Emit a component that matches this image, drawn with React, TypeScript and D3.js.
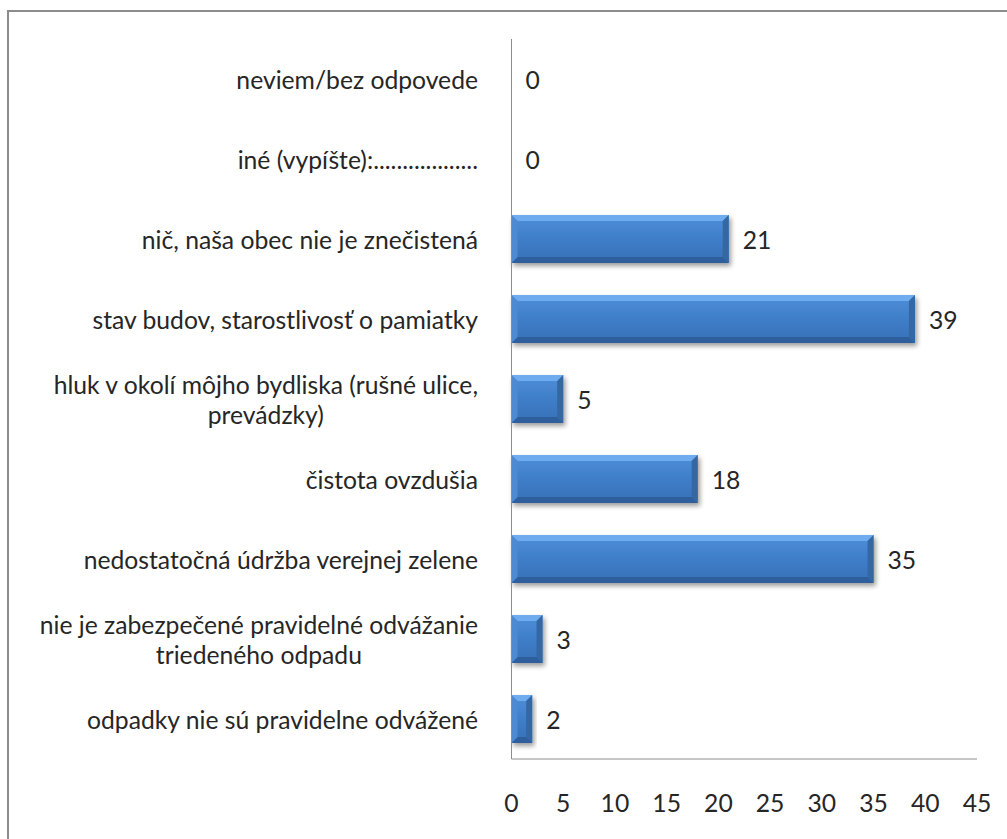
import React, { useEffect, useRef } from "react";
import * as d3 from "d3";

const categories: string[][] = [
  ["neviem/bez odpovede"],
  ["iné (vypíšte):.................."],
  ["nič, naša obec nie je znečistená"],
  ["stav budov, starostlivosť o pamiatky"],
  ["hluk v okolí môjho bydliska (rušné ulice,", "prevádzky)"],
  ["čistota ovzdušia"],
  ["nedostatočná údržba verejnej zelene"],
  ["nie je zabezpečené pravidelné odvážanie", "triedeného odpadu"],
  ["odpadky nie sú pravidelne odvážené"],
];
const values: number[] = [0, 0, 21, 39, 5, 18, 35, 3, 2];
const xTicks: number[] = [0, 5, 10, 15, 20, 25, 30, 35, 40, 45];

const W = 1007;
const H = 839;
const FONT = "Lato, 'Open Sans', sans-serif";
const FS = 24.7;

export default function App() {
  const ref = useRef<SVGSVGElement>(null);
  useEffect(() => {
    const svg = d3.select(ref.current);
    svg.selectAll("*").remove();
    const left = 511.5, right = 977, top = 39, bottom = 759;
    const x = d3.scaleLinear().domain([0, 45]).range([left, right]);
    const y = d3.scaleBand<number>().domain(d3.range(categories.length)).range([top, bottom]).paddingInner(0.4).paddingOuter(0.2);

    const defs = svg.append("defs");
    const g = defs.append("linearGradient").attr("id", "barg").attr("x1", 0).attr("y1", 0).attr("x2", 0).attr("y2", 1);
    g.append("stop").attr("offset", "0%").attr("stop-color", "#4f8fda");
    g.append("stop").attr("offset", "50%").attr("stop-color", "#3f7ec9");
    g.append("stop").attr("offset", "100%").attr("stop-color", "#3670b6");
    const f = defs.append("filter").attr("id", "shadow").attr("x", "-10%").attr("y", "-20%").attr("width", "130%").attr("height", "160%");
    f.append("feGaussianBlur").attr("in", "SourceAlpha").attr("stdDeviation", 2.5).attr("result", "b");
    f.append("feOffset").attr("in", "b").attr("dx", 2).attr("dy", 3).attr("result", "o");
    f.append("feComponentTransfer").attr("in", "o").attr("result", "o2").append("feFuncA").attr("type", "linear").attr("slope", 0.4);
    const m = f.append("feMerge");
    m.append("feMergeNode").attr("in", "o2");
    m.append("feMergeNode").attr("in", "SourceGraphic");

    // border
    svg.append("rect").attr("x", 8).attr("y", 11).attr("width", W + 20).attr("height", H + 20)
      .attr("fill", "white").attr("stroke", "#8c8c8c").attr("stroke-width", 2);

    // bars
    const bars = svg.append("g");
    values.forEach((v, i) => {
      if (v <= 0) return;
      const x0 = x(0), x1 = x(v), y0 = y(i)!, bh = y.bandwidth();
      const w = x1 - x0;
      const b = Math.min(6, w / 2);
      const grp = bars.append("g").attr("filter", "url(#shadow)");
      grp.append("rect").attr("x", x0).attr("y", y0).attr("width", w).attr("height", bh).attr("fill", "url(#barg)");
      grp.append("path").attr("d", `M${x0},${y0}L${x1},${y0}L${x1 - b},${y0 + b}L${x0 + b},${y0 + b}Z`).attr("fill", "#6eabef");
      grp.append("path").attr("d", `M${x0},${y0 + bh}L${x1},${y0 + bh}L${x1 - b},${y0 + bh - b}L${x0 + b},${y0 + bh - b}Z`).attr("fill", "#2f5f9c");
      grp.append("path").attr("d", `M${x0},${y0}L${x0 + b},${y0 + b}L${x0 + b},${y0 + bh - b}L${x0},${y0 + bh}Z`).attr("fill", "#4d8ad2");
      grp.append("path").attr("d", `M${x1},${y0}L${x1 - b},${y0 + b}L${x1 - b},${y0 + bh - b}L${x1},${y0 + bh}Z`).attr("fill", "#3467a3");
    });

    // axes lines
    svg.append("line").attr("x1", x(0)).attr("x2", x(0)).attr("y1", top).attr("y2", bottom).attr("stroke", "#8c8c8c").attr("stroke-width", 1);
    svg.append("line").attr("x1", x(0)).attr("x2", right).attr("y1", bottom).attr("y2", bottom).attr("stroke", "#8c8c8c").attr("stroke-width", 1);

    // tick labels
    svg.append("g").selectAll("text").data(xTicks).join("text")
      .attr("x", d => x(d)).attr("y", 802).attr("text-anchor", "middle").attr("dominant-baseline", "central")
      .attr("font-family", FONT).attr("font-size", FS).attr("fill", "#262626").text(d => String(d));

    // value labels
    svg.append("g").selectAll("text").data(values).join("text")
      .attr("x", d => x(d) + 14).attr("y", (d, i) => y(i)! + y.bandwidth() / 2)
      .attr("dominant-baseline", "central").attr("font-family", FONT).attr("font-size", FS).attr("fill", "#262626")
      .text(d => String(d));

    // category labels
    const labelRight = 478;
    const lh = 30;
    categories.forEach((lines, i) => {
      const cy = y(i)! + y.bandwidth() / 2;
      const t = svg.append("text").attr("font-family", FONT).attr("font-size", FS).attr("fill", "#262626").attr("text-anchor", "middle");
      const spans = lines.map((ln, k) =>
        t.append("tspan").attr("y", cy + (k - (lines.length - 1) / 2) * lh).attr("dominant-baseline", "central").text(ln)
      );
      const maxW = d3.max(spans, s => (s.node() as SVGTSpanElement).getComputedTextLength()) || 0;
      spans.forEach(s => s.attr("x", labelRight - maxW / 2));
    });
  }, []);
  return (
    <svg ref={ref} width={W} height={H} style={{ position: "absolute", left: 0, top: 0, background: "white" }} />
  );
}
